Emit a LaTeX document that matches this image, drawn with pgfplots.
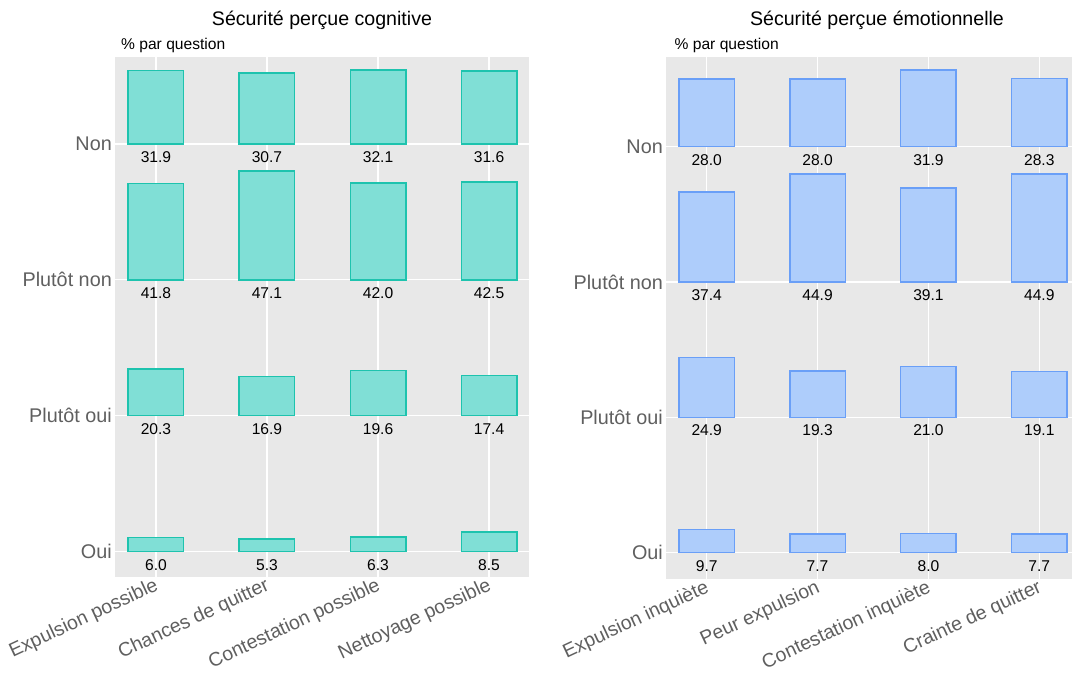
\documentclass[border=0pt]{standalone}
\usepackage{pgfplots}
\pgfplotsset{compat=1.18}
\usepackage{pgfplotstable}
\usepackage{fontspec}
\setmainfont{Liberation Sans}
\definecolor{bg}{HTML}{E8E8E8}
\definecolor{tickgray}{HTML}{5F5F5F}
\definecolor{tealfill}{HTML}{80DFD6}
\definecolor{tealedge}{HTML}{1EC3AE}
\definecolor{bluefill}{HTML}{AECDFB}
\definecolor{blueedge}{HTML}{6A9FF7}

% Sécurité perçue cognitive (% par question)
\pgfplotstableread{
x oui poui pnon non
0 6.0 20.3 41.8 31.9
1 5.3 16.9 47.1 30.7
2 6.3 19.6 42.0 32.1
3 8.5 17.4 42.5 31.6
}\cogn

% Sécurité perçue émotionnelle (% par question)
\pgfplotstableread{
x oui poui pnon non
0 9.7 24.9 37.4 28.0
1 7.7 19.3 44.9 28.0
2 8.0 21.0 39.1 31.9
3 7.7 19.1 44.9 28.3
}\emot

\pgfplotsset{
  panel/.style={
    scale only axis, enlargelimits=false,
    ybar stacked, bar width=0.5,
    xtick={0,1,2,3}, ytick={0,1,2,3},
    yticklabels={Oui,Plutôt oui,Plutôt non,Non},
    major tick length=0pt, tick style={draw=none},
    axis line style={draw=none},
    grid=major, grid style={white, line width=1.3bp},
    axis background/.style={fill=bg},
    yticklabel style={anchor=east, inner sep=3bp, font=\fontsize{19.8bp}{22bp}\selectfont, text=tickgray},
    xticklabel style={rotate=25, anchor=north east, inner sep=1bp, yshift=3bp, xshift=-1bp, font=\fontsize{19.5bp}{23bp}\selectfont, text=tickgray},
  },
  labels/.style={
    scale only axis, enlargelimits=false, hide axis,
    point meta=explicit symbolic,
    nodes near coords,
    nodes near coords style={anchor=center, font=\fontsize{15.6bp}{18bp}\selectfont, text=black},
  },
  inv/.style={draw=none, fill=none},
}

\begin{document}
\begin{tikzpicture}[x=1bp,y=1bp]
\useasboundingbox (0,0) rectangle (1072,678);

% ---------- left panel ----------
\begin{axis}[panel, at={(115bp,620.7bp)}, anchor=north west,
  width=414bp, height=520bp,
  xmin=-0.369, xmax=3.36, ymin=-0.191, ymax=3.639,
  xticklabels={Expulsion possible,Chances de quitter,Contestation possible,Nettoyage possible}]
\pgfplotsset{bs/.style={fill=tealfill, draw=tealedge, line width=1.5bp}}
\addplot[bs]  table[x=x, y expr=\thisrow{oui}/47.1*0.8] \cogn;
\addplot[inv] table[x=x, y expr=1-\thisrow{oui}/47.1*0.8] \cogn;
\addplot[bs]  table[x=x, y expr=\thisrow{poui}/47.1*0.8] \cogn;
\addplot[inv] table[x=x, y expr=1-\thisrow{poui}/47.1*0.8] \cogn;
\addplot[bs]  table[x=x, y expr=\thisrow{pnon}/47.1*0.8] \cogn;
\addplot[inv] table[x=x, y expr=1-\thisrow{pnon}/47.1*0.8] \cogn;
\addplot[bs]  table[x=x, y expr=\thisrow{non}/47.1*0.8] \cogn;
\end{axis}
\begin{axis}[labels, at={(115bp,620.7bp)}, anchor=north west,
  width=414bp, height=520bp,
  xmin=-0.369, xmax=3.36, ymin=-0.191, ymax=3.639]
\addplot[only marks, mark=none] table[x=x, y expr=0-0.098, meta=oui] \cogn;
\addplot[only marks, mark=none] table[x=x, y expr=1-0.098, meta=poui] \cogn;
\addplot[only marks, mark=none] table[x=x, y expr=2-0.098, meta=pnon] \cogn;
\addplot[only marks, mark=none] table[x=x, y expr=3-0.098, meta=non] \cogn;
\end{axis}

% ---------- right panel ----------
\begin{axis}[panel, at={(666bp,620.7bp)}, anchor=north west,
  width=406bp, height=522bp,
  xmin=-0.367, xmax=3.295, ymin=-0.197, ymax=3.661,
  xticklabels={Expulsion inquiète,Peur expulsion,Contestation inquiète,Crainte de quitter}]
\pgfplotsset{bs/.style={fill=bluefill, draw=blueedge, line width=1.5bp}}
\addplot[bs]  table[x=x, y expr=\thisrow{oui}/44.9*0.8] \emot;
\addplot[inv] table[x=x, y expr=1-\thisrow{oui}/44.9*0.8] \emot;
\addplot[bs]  table[x=x, y expr=\thisrow{poui}/44.9*0.8] \emot;
\addplot[inv] table[x=x, y expr=1-\thisrow{poui}/44.9*0.8] \emot;
\addplot[bs]  table[x=x, y expr=\thisrow{pnon}/44.9*0.8] \emot;
\addplot[inv] table[x=x, y expr=1-\thisrow{pnon}/44.9*0.8] \emot;
\addplot[bs]  table[x=x, y expr=\thisrow{non}/44.9*0.8] \emot;
\end{axis}
\begin{axis}[labels, at={(666bp,620.7bp)}, anchor=north west,
  width=406bp, height=522bp,
  xmin=-0.367, xmax=3.295, ymin=-0.197, ymax=3.661]
\addplot[only marks, mark=none] table[x=x, y expr=0-0.098, meta=oui] \emot;
\addplot[only marks, mark=none] table[x=x, y expr=1-0.098, meta=poui] \emot;
\addplot[only marks, mark=none] table[x=x, y expr=2-0.098, meta=pnon] \emot;
\addplot[only marks, mark=none] table[x=x, y expr=3-0.098, meta=non] \emot;
\end{axis}

% ---------- titles ----------
\node[anchor=base, font=\fontsize{19.6bp}{23bp}\selectfont] at (322,652) {Sécurité perçue cognitive};
\node[anchor=base west, inner sep=0pt, font=\fontsize{15.6bp}{18bp}\selectfont] at (121,628) {\% par question};
\node[anchor=base, font=\fontsize{19.6bp}{23bp}\selectfont] at (877,652) {Sécurité perçue émotionnelle};
\node[anchor=base west, inner sep=0pt, font=\fontsize{15.6bp}{18bp}\selectfont] at (674.5,628) {\% par question};
\end{tikzpicture}
\end{document}
